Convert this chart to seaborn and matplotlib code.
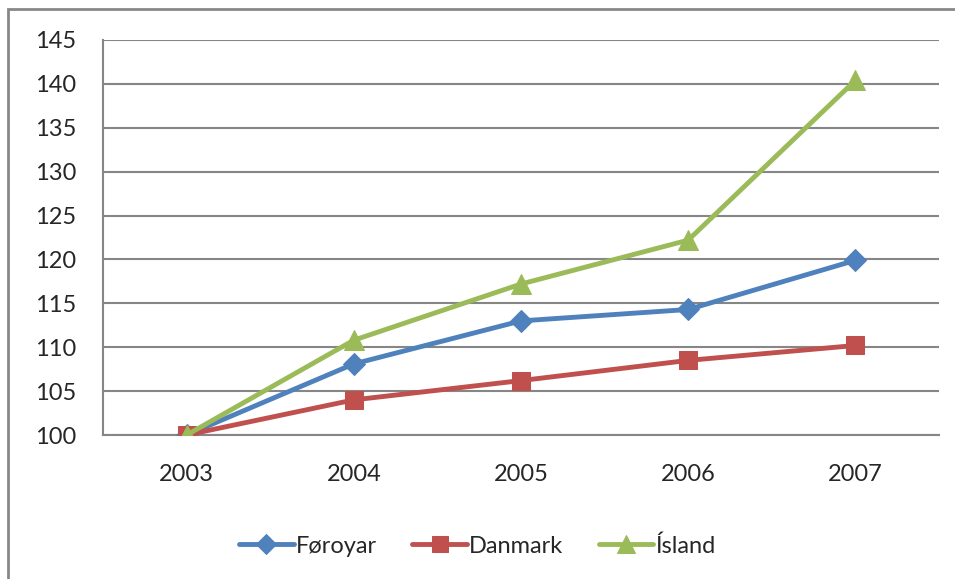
import matplotlib
matplotlib.use("Agg")
import matplotlib.pyplot as plt
import seaborn as sns
import pandas as pd
from matplotlib.patches import Rectangle

years = ["2003", "2004", "2005", "2006", "2007"]
foroyar = [100, 108.1, 113.0, 114.3, 119.9]
danmark = [100, 104.0, 106.2, 108.5, 110.2]
island = [100, 110.8, 117.2, 122.2, 140.4]
series_names = ["Føroyar", "Danmark", "Ísland"]
yticks = [100, 105, 110, 115, 120, 125, 130, 135, 140, 145]

rows = []
for name, vals in zip(series_names, [foroyar, danmark, island]):
    for i, v in enumerate(vals):
        rows.append({"pos": i, "year": years[i], "value": v, "series": name})
df = pd.DataFrame(rows)

sns.set_style("white")
plt.rcParams["font.family"] = ["Lato", "DejaVu Sans"]

palette = {"Føroyar": "#4F81BD", "Danmark": "#C0504D", "Ísland": "#9BBB59"}
markers = {"Føroyar": "D", "Danmark": "s", "Ísland": "^"}
msizes = {"Føroyar": 11, "Danmark": 12.5, "Ísland": 14}

fig = plt.figure(figsize=(9.55, 5.79), dpi=100)
ax = fig.add_axes([103 / 955, 1 - 435 / 579, (939 - 103) / 955, (435 - 40) / 579])

grid_c = "#868686"
for y in yticks:
    ax.axhline(y, color=grid_c, lw=1.5, zorder=0)

for name in series_names:
    sub = df[df["series"] == name]
    sns.lineplot(data=sub, x="pos", y="value", color=palette[name], lw=3.5,
                 marker=markers[name], markersize=msizes[name],
                 markeredgecolor=palette[name], label=name, ax=ax, zorder=3)

ax.set_xlim(-0.5, 4.5)
ax.set_ylim(100, 145)
ax.set_yticks(yticks)
ax.set_yticklabels([str(t) for t in yticks])
ax.set_xticks(range(len(years)))
ax.set_xticklabels(years)
ax.set_xticks([i - 0.5 for i in range(len(years) + 1)], minor=True)
ax.tick_params(axis="x", which="major", length=0, labelsize=17, pad=21)
ax.tick_params(axis="x", which="minor", length=6, width=1.5, color=grid_c)
ax.tick_params(axis="y", length=7, width=1.5, color=grid_c, labelsize=17, pad=12)
ax.set_xlabel("")
ax.set_ylabel("")
for s in ["top", "right"]:
    ax.spines[s].set_visible(False)
for s in ["left", "bottom"]:
    ax.spines[s].set_color(grid_c)
    ax.spines[s].set_linewidth(1.5)
ax.set_clip_on(False)

ax.legend(loc="center", bbox_to_anchor=(0.5, 1 - 546 / 579), bbox_transform=fig.transFigure,
          ncol=3, frameon=False, fontsize=17, handlelength=2.3, columnspacing=1.5,
          handletextpad=0.1, markerscale=0.95)

fig.patches.append(Rectangle((8 / 955, -0.05), 1.0, 1 - 9 / 579 + 0.05, transform=fig.transFigure,
                             fill=False, edgecolor="#878787", lw=2))

fig.savefig("out.png", dpi=100)
